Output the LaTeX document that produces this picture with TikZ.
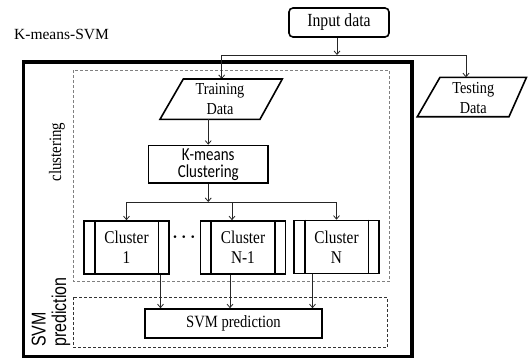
\documentclass[tikz,border=0pt]{standalone}
\usepackage{fontspec}
\setmainfont{Liberation Serif}
\newfontfamily\nserif{Liberation Serif}[FakeStretch=0.85]
\newfontfamily\ncal{Carlito}[FakeStretch=0.82]
\newfontfamily\nsans{Liberation Sans}[FakeStretch=0.8]
\usetikzlibrary{arrows.meta}
\begin{document}
\begin{tikzpicture}[x=1pt,y=-1pt,
  txt/.style={align=center, inner sep=0pt},
  sf/.style={font=\nserif\fontsize{#1}{20}\selectfont},
  arr/.style={draw=black!85, line width=0.8pt, -{Straight Barb[length=3.5pt,width=6pt]}},
  ln/.style={draw=black!85, line width=0.8pt},
  boxline/.style={line width=1.6pt},
  clusterbox/.style={draw, boxline, minimum width=85pt, minimum height=53pt, txt, sf=18},
]
\fill[white] (0,0) rectangle (528,359);
\useasboundingbox (0,0) rectangle (528,359);

% frames
\draw[line width=3.2pt] (23.5,62) rectangle (412,356.5);
\draw[gray, line width=0.9pt, dash pattern=on 3pt off 2pt] (73.5,70) rectangle (389,281.5);
\draw[black!80, line width=0.9pt, dash pattern=on 3pt off 2pt] (73.5,297) rectangle (387,347.5);

% title
\node[txt, anchor=west, font=\fontsize{15.5}{18}\selectfont] (title) at (14,34) {K-means-SVM};

% input
\node[draw, rounded corners=4pt, boxline, minimum width=100pt, minimum height=29pt, txt, sf=18.5] (input) at (339,22.5) {Input data};
\coordinate (split) at (337,55);
\coordinate (sl) at (221.7,55);
\coordinate (sr) at (466,55);
\coordinate (trtop) at (221.7,79);
\coordinate (tetop) at (466,77.3);
\draw[arr] (input.south -| split) -- (split);
\draw[ln] (sl) -- (sr);
\draw[arr] (sl) -- (trtop);
\draw[arr] (sr) -- (tetop);

% training data
\draw[boxline] (183.3,79) -- (282.3,79) -- (260,119.3) -- (160,119.3) -- cycle;
\node[txt, sf=16.8] (train) at (220,99.5) {Training\\Data};
\coordinate (trbot) at (208,119.3);

% testing data
\draw[boxline] (440,77.3) -- (526.5,77.3) -- (509,116.7) -- (417.3,116.7) -- cycle;
\node[txt, sf=16.8] (test) at (473.3,98) {Testing\\Data};

% k-means
\node[draw, boxline, minimum width=119.5pt, minimum height=37.5pt, txt, font=\ncal\fontsize{18.3}{17}\selectfont] (km) at (208.25,164.25) {K-means\\Clustering};
\draw[arr] (km.north |- trbot) -- (km.north);

% branches
\coordinate (b) at (208,202);
\coordinate (bl) at (126.5,202);
\coordinate (bm) at (232,202);
\coordinate (br) at (336.5,202);
\draw[arr] (km.south) -- (km.south |- b);
\draw[ln] (bl) -- (br);

% clusters
\node[clusterbox] (c1) at (126.5,247.5) {Cluster\\1};
\node[clusterbox] (c2) at (243,247.5) {Cluster\\N-1};
\node[clusterbox] (c3) at (336.5,247) {Cluster\\N};
\foreach \c in {c1,c2,c3}{
  \draw[boxline] ([xshift=11.5pt]\c.north west) -- ([xshift=11.5pt]\c.south west);
  \draw[boxline] ([xshift=-11.5pt]\c.north east) -- ([xshift=-11.5pt]\c.south east);
}
\draw[arr] (bl) -- (c1.north);
\draw[arr] (bm) -- (bm |- c2.north);
\draw[arr] (br) -- (c3.north);
\node[inner sep=0pt, font=\fontsize{19}{19}\selectfont\boldmath] (dots) at (184,237) {$\cdots$};

% svm prediction
\node[draw, boxline, minimum width=177pt, minimum height=29pt, txt, sf=17.2] (svm) at (233.5,323.5) {SVM prediction};
\draw[arr] ([xshift=34pt]c1.south) -- ([xshift=34pt]c1.south |- svm.north);
\draw[arr] ([xshift=-13pt]c2.south) -- ([xshift=-13pt]c2.south |- svm.north);
\draw[arr] ([xshift=-24pt]c3.south) -- ([xshift=-24pt]c3.south |- svm.north);

% side labels
\node[txt, rotate=90, sf=17.5] (clab) at (57,152) {clustering};
\node[inner sep=0pt, rotate=90, anchor=base west, font=\nsans\fontsize{20}{20}\selectfont] (svmlab) at (45.7,347) {SVM};
\node[inner sep=0pt, rotate=90, anchor=base west, font=\nsans\fontsize{20}{20}\selectfont] (predlab) at (66,347) {prediction};
\end{tikzpicture}
\end{document}
